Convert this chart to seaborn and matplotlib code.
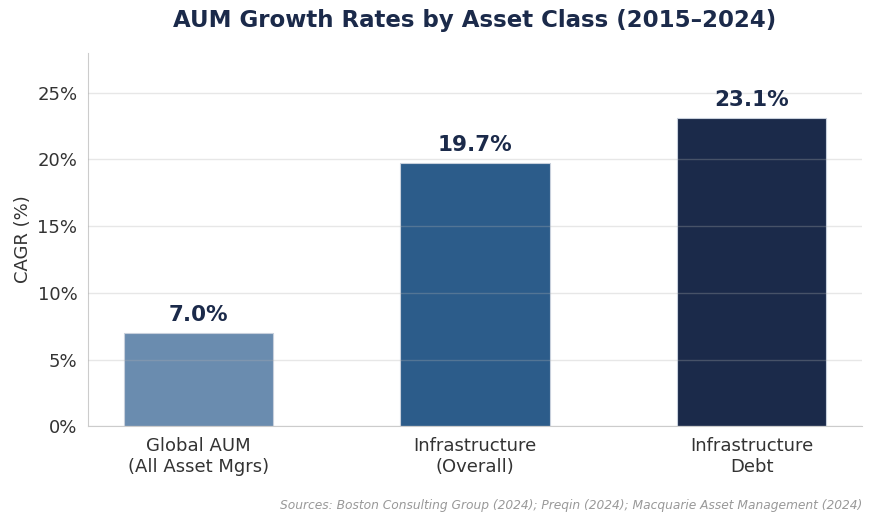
import matplotlib
matplotlib.use('Agg')
import matplotlib.pyplot as plt
import seaborn as sns
import pandas as pd
from matplotlib.ticker import FuncFormatter

categories = ['Global AUM\n(All Asset Mgrs)', 'Infrastructure\n(Overall)', 'Infrastructure\nDebt']
cagr = [7.0, 19.7, 23.1]
bar_colors = ['#6a8caf', '#2c5c8a', '#1b2a4a']

df = pd.DataFrame({'category': categories, 'cagr': cagr})

sns.set_style('white')
plt.rcParams['font.family'] = ['DejaVu Sans']

fig, ax = plt.subplots(figsize=(8.78, 5.25), dpi=100)
sns.barplot(data=df, x='category', y='cagr', hue='category', palette=bar_colors,
            saturation=1, width=0.54, edgecolor='#c8d0dc', linewidth=0.8,
            legend=False, ax=ax)

for i, v in enumerate(cagr):
    ax.text(i, v + 0.6, f'{v:.1f}%', ha='center', va='bottom', fontsize=15.5,
            fontweight='bold', color='#1b2a4a')

ax.set_ylim(0, 28)
ax.set_xlim(-0.4, 2.4)
ax.set_yticks([0, 5, 10, 15, 20, 25])
ax.yaxis.set_major_formatter(FuncFormatter(lambda y, _: f'{y:.0f}%'))
ax.grid(axis='y', color='#b0b0b0', linewidth=1, alpha=0.3)
ax.set_axisbelow(False)
ax.tick_params(axis='both', labelsize=13, colors='#333333', length=4, color='#555555')
ax.tick_params(axis='x', length=3, pad=5)
ax.set_xlabel('')
ax.set_ylabel('CAGR (%)', fontsize=13, color='#333333')
for s in ['top', 'right']:
    ax.spines[s].set_visible(False)
for s in ['left', 'bottom']:
    ax.spines[s].set_color('#cccccc')

ax.set_title('AUM Growth Rates by Asset Class (2015\u20132024)', fontsize=16.5,
             fontweight='bold', color='#1b2a4a', pad=18)

fig.text(0.982, 0.025, 'Sources: Boston Consulting Group (2024); Preqin (2024); Macquarie Asset Management (2024)',
         ha='right', va='bottom', fontsize=8.85, style='italic', color='#999999')

plt.subplots_adjust(left=0.1, right=0.982, top=0.9, bottom=0.188)
plt.savefig('out.png', dpi=100)
